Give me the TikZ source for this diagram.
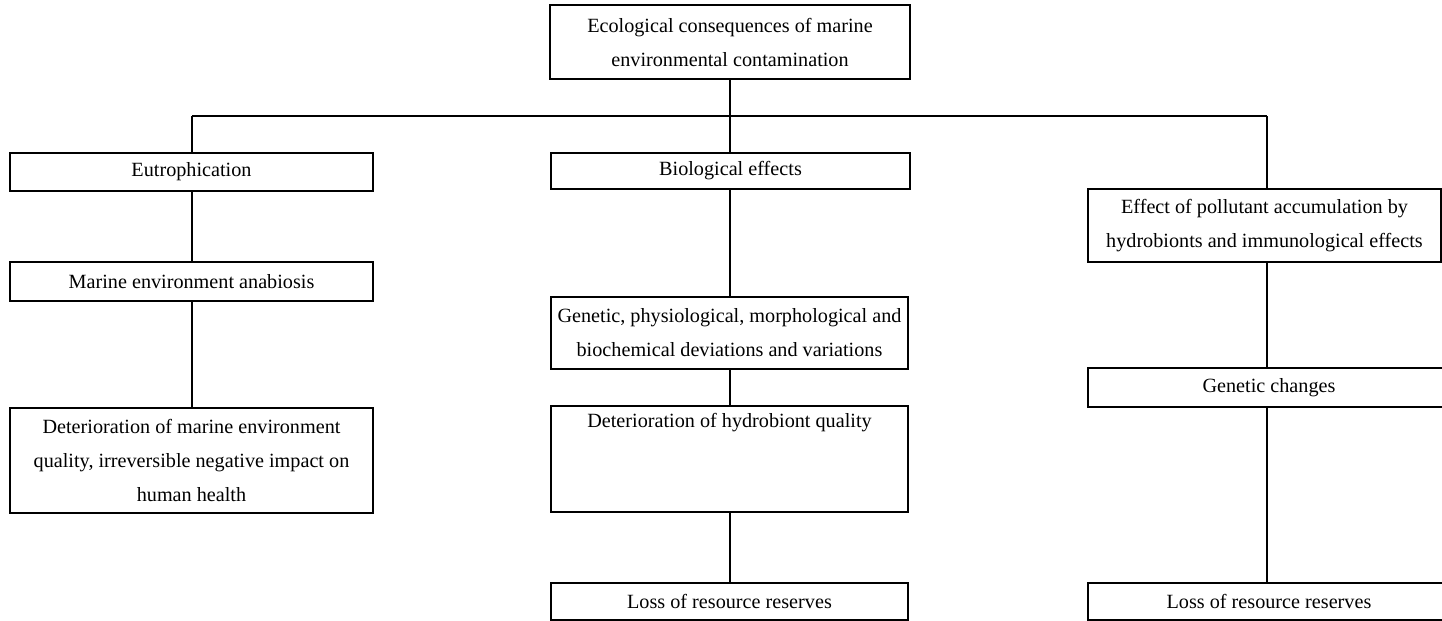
\documentclass[tikz,border=0pt]{standalone}
\usepackage{fontspec}
\setmainfont{Liberation Serif}
\begin{document}
\begin{tikzpicture}[x=0.5pt, y=-0.5pt, line width=0.8pt,
  box/.style={draw, rectangle, inner sep=0pt, outer sep=0pt, align=center,
    anchor=north west, font=\fontsize{10.1}{17}\selectfont},
  sz/.style 2 args={minimum width=#1*0.5pt, minimum height=#2*0.5pt}]
\useasboundingbox (0,0) rectangle (1442,621);

% root
\node[box, sz={360}{74}] (top) at (550,5)
  {Ecological consequences of marine\\environmental contamination};

% left branch
\node[box, sz={363}{38}] (eut) at (10,153) {Eutrophication};
\node[box, sz={363}{39}] (ana) at (10,262) {Marine environment anabiosis};
\node[box, sz={363}{105}] (det) at (10,408)
  {Deterioration of marine environment\\quality, irreversible negative impact on\\human health};

% middle branch
\node[box, sz={359}{36}] (bio) at (551,153) {Biological effects};
\node[box, sz={357}{72}] (gen) at (551,297)
  {Genetic, physiological, morphological and\\biochemical deviations and variations};
\node[box, sz={357}{106}] (hyd) at (551,406)
  {\parbox[c][53pt][t]{176pt}{\centering\vspace*{3.5pt}Deterioration of hydrobiont quality}};
\node[box, sz={357}{37}] (lossM) at (551,583) {Loss of resource reserves};

% right branch
\node[box, sz={353}{73}] (eff) at (1088,189)
  {Effect of pollutant accumulation by\\hydrobionts and immunological effects};
\node[box, sz={362}{39}] (gch) at (1088,368) {Genetic changes};
\node[box, sz={362}{37}] (lossR) at (1088,583) {Loss of resource reserves};

% column axes on the distribution bar
\coordinate (jL) at (192,116);
\coordinate (jM) at (730,116);
\coordinate (jR) at (1267,116);

\draw (jM |- top.south) -- (jM |- bio.north);
\draw (jL) -- (jR);
\draw (jL) -- (jL |- eut.north);
\draw (jR) -- (jR |- eff.north);

\draw (jL |- eut.south) -- (jL |- ana.north);
\draw (jL |- ana.south) -- (jL |- det.north);

\draw (jM |- bio.south) -- (jM |- gen.north);
\draw (jM |- gen.south) -- (jM |- hyd.north);
\draw (jM |- hyd.south) -- (jM |- lossM.north);

\draw (jR |- eff.south) -- (jR |- gch.north);
\draw (jR |- gch.south) -- (jR |- lossR.north);
\end{tikzpicture}
\end{document}
